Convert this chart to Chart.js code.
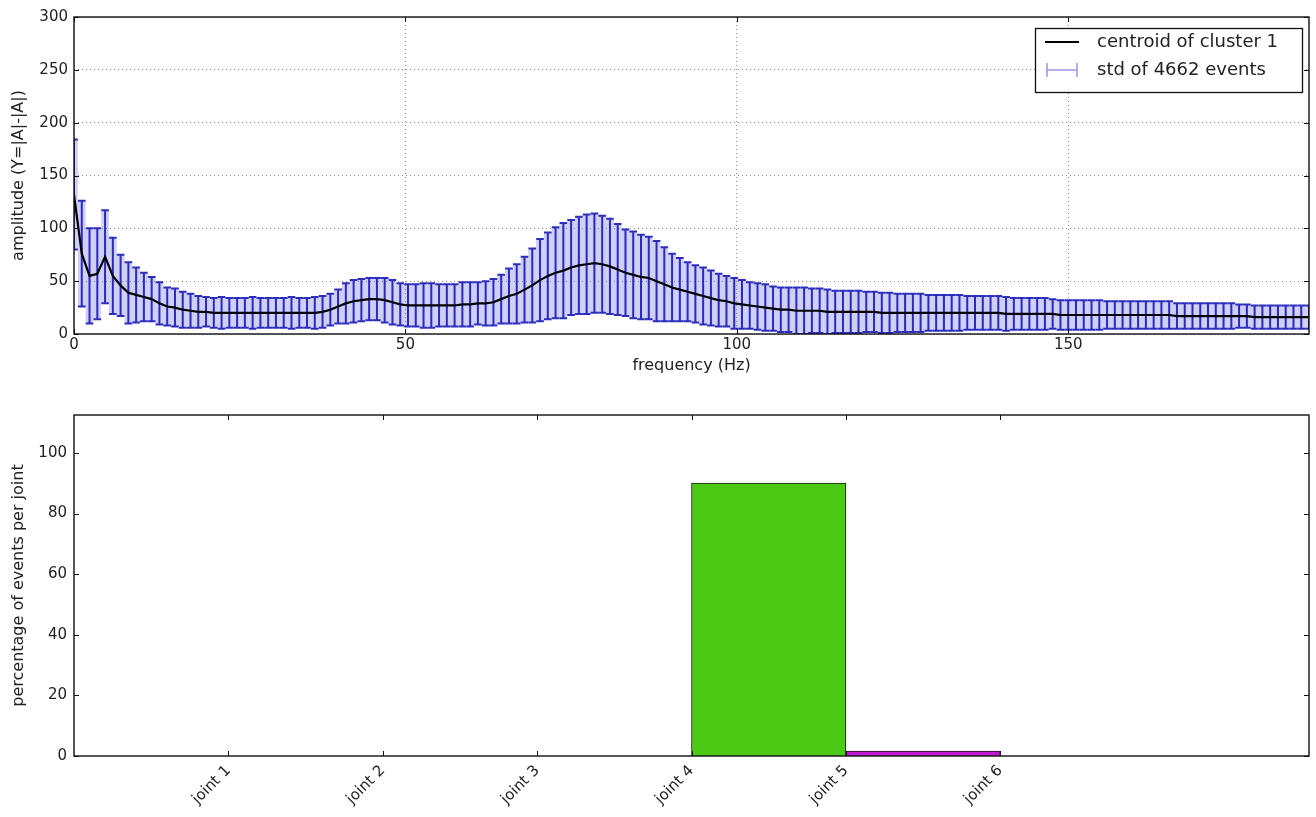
<!DOCTYPE html>
<html>
<head>
<meta charset="utf-8">
<script src="https://cdn.jsdelivr.net/npm/chart.js@4.4.1/dist/chart.umd.min.js"></script>
<style>
  html, body { margin: 0; padding: 0; background: #fff; }
  #spectrumBox { position: absolute; left: 0; top: 0; width: 1316px; height: 380px; }
  #jointBox { position: absolute; left: 0; top: 380px; width: 1316px; height: 437px; }
  canvas { display: block; }
</style>
</head>
<body>
<div id="spectrumBox"><canvas id="spectrum" width="1316" height="380"></canvas></div>
<div id="jointBox"><canvas id="joints" width="1316" height="437"></canvas></div>
<script>
// FFT bin spacing of the amplitude spectrum (Hz)
const BIN_WIDTH_HZ = 300 / 256;

// centroid amplitude of cluster 1, one value per frequency bin
const centroidAmp = [
  132, 76, 55, 57, 73, 55, 46, 39, 37, 35,
  33, 29, 26, 25, 23, 22, 21, 21, 20, 20,
  20, 20, 20, 20, 20, 20, 20, 20, 20, 20,
  20, 20, 21, 23, 26, 29, 31, 32, 33, 33,
  32, 30, 28, 27, 27, 27, 27, 27, 27, 27,
  28, 28, 29, 29, 30, 33, 36, 38, 42, 46,
  51, 55, 58, 60, 63, 65, 66, 67, 66, 64,
  61, 58, 56, 54, 53, 50, 47, 44, 42, 40,
  38, 36, 34, 32, 31, 29, 28, 27, 26, 25,
  24, 23, 23, 22, 22, 22, 22, 21, 21, 21,
  21, 21, 21, 21, 20, 20, 20, 20, 20, 20,
  20, 20, 20, 20, 20, 20, 20, 20, 20, 20,
  19, 19, 19, 19, 19, 19, 19, 18, 18, 18,
  18, 18, 18, 18, 18, 18, 18, 18, 18, 18,
  18, 18, 17, 17, 17, 17, 17, 17, 17, 17,
  17, 17, 16, 16, 16, 16, 16, 16, 16, 16
];

// standard deviation over the events of the cluster, per bin
const stdAmp = [
  52, 50, 45, 43, 44, 36, 29, 29, 26, 23,
  21, 20, 18, 18, 17, 16, 15, 14, 14, 15,
  14, 14, 14, 15, 14, 14, 14, 14, 15, 14,
  14, 15, 15, 15, 16, 19, 20, 20, 20, 20,
  21, 21, 20, 20, 20, 21, 21, 20, 20, 20,
  21, 21, 20, 21, 22, 23, 26, 28, 31, 35,
  39, 41, 43, 45, 45, 46, 47, 47, 46, 45,
  43, 41, 41, 40, 39, 38, 35, 32, 30, 28,
  27, 27, 26, 25, 24, 24, 23, 22, 22, 22,
  21, 21, 21, 22, 22, 21, 21, 21, 20, 20,
  20, 20, 19, 19, 19, 19, 18, 18, 18, 18,
  17, 17, 17, 17, 17, 16, 16, 16, 16, 16,
  16, 15, 15, 15, 15, 15, 14, 14, 14, 14,
  14, 14, 14, 13, 13, 13, 13, 13, 13, 13,
  13, 13, 12, 12, 12, 12, 12, 12, 12, 12,
  11, 11, 11, 11, 11, 11, 11, 11, 11, 11
];

const freqTicks = [0, 50, 100, 150];
const ampTicks = [0, 50, 100, 150, 200, 250, 300];

// share of events per joint (%)
const jointLabels = ['joint 1', 'joint 2', 'joint 3', 'joint 4', 'joint 5', 'joint 6'];
const jointShare = [0, 0, 0, 90.0, 1.6, 0];
const jointColors = ['#1f1fd6', '#d62020', '#20c8c8', '#4cc914', '#c21ad0', '#d6d620'];
const shareTicks = [0, 20, 40, 60, 80, 100];

const eventCount = 4662;

const FONT = '"DejaVu Sans", "Liberation Sans", sans-serif';
const TEXT = '#222';

const freqs = centroidAmp.map((_, k) => k * BIN_WIDTH_HZ);

// black frame with inward tick marks on all four sides
const framePlugin = {
  id: 'frame',
  afterDraw(chart) {
    const { ctx, chartArea: a, scales } = chart;
    ctx.save();
    ctx.strokeStyle = '#111';
    ctx.lineWidth = 1;
    const seg = (x1, y1, x2, y2) => { ctx.beginPath(); ctx.moveTo(x1, y1); ctx.lineTo(x2, y2); ctx.stroke(); };
    scales.x.ticks.forEach(t => {
      const px = Math.round(scales.x.getPixelForValue(t.value)) + 0.5;
      seg(px, a.bottom, px, a.bottom - 5);
      seg(px, a.top, px, a.top + 5);
    });
    scales.y.ticks.forEach(t => {
      const py = Math.round(scales.y.getPixelForValue(t.value)) + 0.5;
      seg(a.left, py, a.left + 5, py);
      seg(a.right, py, a.right - 5, py);
    });
    ctx.lineWidth = 1.4;
    ctx.strokeRect(a.left, a.top, a.right - a.left, a.bottom - a.top);
    ctx.restore();
  }
};

// vertical error bars (mean ± std) behind the centroid line
const errorBarPlugin = {
  id: 'errorBars',
  beforeDatasetsDraw(chart) {
    const { ctx, chartArea: a, scales: { x, y } } = chart;
    ctx.save();
    ctx.beginPath();
    ctx.rect(a.left, a.top, a.right - a.left, a.bottom - a.top);
    ctx.clip();
    const px = freqs.map(f => x.getPixelForValue(f));
    const half = (px[1] - px[0]) / 2;
    // soft band between neighbouring bars
    ctx.fillStyle = 'rgba(105, 105, 228, 0.32)';
    centroidAmp.forEach((m, k) => {
      const yt = y.getPixelForValue(m + stdAmp[k]);
      const yb = y.getPixelForValue(m - stdAmp[k]);
      ctx.fillRect(px[k] - half, yt, half * 2, yb - yt);
    });
    ctx.strokeStyle = 'rgba(28, 28, 185, 0.92)';
    ctx.lineWidth = 2;
    centroidAmp.forEach((m, k) => {
      const yt = y.getPixelForValue(m + stdAmp[k]);
      const yb = y.getPixelForValue(m - stdAmp[k]);
      ctx.beginPath();
      ctx.moveTo(px[k], yt); ctx.lineTo(px[k], yb);
      ctx.moveTo(px[k] - 3.8, yt); ctx.lineTo(px[k] + 3.8, yt);
      ctx.moveTo(px[k] - 3.8, yb); ctx.lineTo(px[k] + 3.8, yb);
      ctx.stroke();
    });
    ctx.restore();
  }
};

// legend box in the upper right corner of the spectrum axes
const spectrumLegend = {
  id: 'spectrumLegend',
  afterDraw(chart) {
    const { ctx, chartArea: a } = chart;
    const w = 267, h = 64;
    const bx = a.right - 7 - w, by = a.top + 11;
    ctx.save();
    ctx.fillStyle = '#fff';
    ctx.fillRect(bx, by, w, h);
    ctx.strokeStyle = '#111';
    ctx.lineWidth = 1.3;
    ctx.strokeRect(bx + 0.5, by + 0.5, w, h);
    const r1 = by + 14, r2 = by + 42;
    ctx.strokeStyle = '#000';
    ctx.lineWidth = 2;
    ctx.beginPath(); ctx.moveTo(bx + 10, r1); ctx.lineTo(bx + 44, r1); ctx.stroke();
    ctx.strokeStyle = 'rgba(80, 80, 215, 0.6)';
    ctx.lineWidth = 1.5;
    ctx.beginPath();
    ctx.moveTo(bx + 12, r2 - 7); ctx.lineTo(bx + 12, r2 + 7);
    ctx.moveTo(bx + 42, r2 - 7); ctx.lineTo(bx + 42, r2 + 7);
    ctx.moveTo(bx + 12, r2); ctx.lineTo(bx + 42, r2);
    ctx.stroke();
    ctx.fillStyle = TEXT;
    ctx.font = '18px ' + FONT;
    ctx.textBaseline = 'middle';
    ctx.textAlign = 'left';
    ctx.fillText('centroid of cluster 1', bx + 62, r1);
    ctx.fillText('std of ' + eventCount + ' events', bx + 62, r2);
    ctx.restore();
  }
};

new Chart(document.getElementById('spectrum'), {
  type: 'line',
  data: {
    datasets: [{
      label: 'centroid of cluster 1',
      data: freqs.map((f, k) => ({ x: f, y: centroidAmp[k] })),
      borderColor: '#000',
      borderWidth: 2.2,
      pointRadius: 0,
      tension: 0,
      fill: false
    }]
  },
  options: {
    responsive: false,
    animation: false,
    layout: { padding: { top: 17, right: 7, left: 0, bottom: 0 } },
    plugins: { legend: { display: false }, tooltip: { enabled: false } },
    scales: {
      x: {
        type: 'linear',
        min: 0,
        max: freqs[freqs.length - 1],
        afterBuildTicks: s => { s.ticks = freqTicks.map(v => ({ value: v })); },
        afterFit: s => { s.height = 46; },
        ticks: { color: TEXT, font: { family: FONT, size: 15 }, padding: 2, maxRotation: 0 },
        grid: { color: 'rgba(0,0,0,0.45)', lineWidth: 1, drawTicks: false },
        border: { display: false, dash: [1, 3] },
        title: { display: true, text: 'frequency (Hz)', color: TEXT, font: { family: FONT, size: 16 }, padding: { top: 0, bottom: 5 } }
      },
      y: {
        min: 0,
        max: 300,
        afterBuildTicks: s => { s.ticks = ampTicks.map(v => ({ value: v })); },
        afterFit: s => { s.width = 74; },
        ticks: { color: TEXT, font: { family: FONT, size: 15 }, padding: 6 },
        grid: { color: 'rgba(0,0,0,0.45)', lineWidth: 1, drawTicks: false },
        border: { display: false, dash: [1, 3] },
        title: { display: true, text: 'amplitude (Y=|A|-|A|)', color: TEXT, font: { family: FONT, size: 16 }, padding: { top: 9, bottom: 0 } }
      }
    }
  },
  plugins: [errorBarPlugin, framePlugin, spectrumLegend]
});

new Chart(document.getElementById('joints'), {
  type: 'bar',
  data: {
    datasets: [{
      label: 'percentage of events per joint',
      // bars span from one joint tick to the next
      data: jointShare.map((v, k) => ({ x: k + 1.5, y: v })),
      backgroundColor: jointColors,
      borderColor: '#1a1a1a',
      borderWidth: 1,
      barPercentage: 1,
      categoryPercentage: 1
    }]
  },
  options: {
    responsive: false,
    animation: false,
    layout: { padding: { top: 35, right: 7, left: 0, bottom: 0 } },
    plugins: { legend: { display: false }, tooltip: { enabled: false } },
    scales: {
      x: {
        type: 'linear',
        min: 0,
        max: 8,
        offset: false,
        afterBuildTicks: s => { s.ticks = jointLabels.map((_, k) => ({ value: k + 1 })); },
        afterFit: s => { s.height = 61; },
        ticks: {
          color: TEXT, font: { family: FONT, size: 15 }, padding: 6,
          minRotation: 45, maxRotation: 45,
          callback: v => jointLabels[Math.round(v) - 1]
        },
        grid: { display: false, drawTicks: false },
        border: { display: false }
      },
      y: {
        min: 0,
        max: 112.5,
        afterBuildTicks: s => { s.ticks = shareTicks.map(v => ({ value: v })); },
        afterFit: s => { s.width = 74; },
        ticks: { color: TEXT, font: { family: FONT, size: 15 }, padding: 7 },
        grid: { display: false, drawTicks: false },
        border: { display: false },
        title: { display: true, text: 'percentage of events per joint', color: TEXT, font: { family: FONT, size: 16 }, padding: { top: 9, bottom: 0 } }
      }
    }
  },
  plugins: [framePlugin]
});
</script>
</body>
</html>
